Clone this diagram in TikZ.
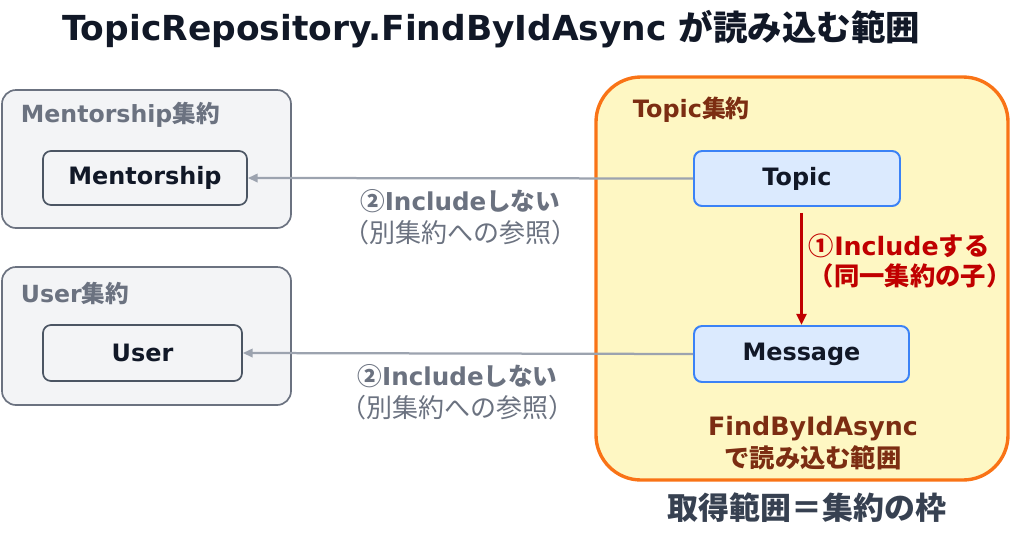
\documentclass[tikz,border=0pt]{standalone}
\usepackage{fontspec}
\setmainfont{DejaVu Sans}
\newfontfamily\jpfont{Noto Sans CJK JP}
\newcommand\ja[1]{{\jpfont #1}}
\usetikzlibrary{arrows.meta,positioning}
\newcommand\pxu{0.025cm}
\definecolor{titleink}{HTML}{111827}
\definecolor{aggline}{HTML}{6B7280}
\definecolor{aggfill}{HTML}{F3F4F6}
\definecolor{entline}{HTML}{4B5563}
\definecolor{refgray}{HTML}{9CA3AF}
\definecolor{topicfill}{HTML}{FEF7C3}
\definecolor{topicline}{HTML}{F97316}
\definecolor{brownink}{HTML}{7C2D12}
\definecolor{bluefill}{HTML}{DBEAFE}
\definecolor{blueline}{HTML}{3B82F6}
\definecolor{redink}{HTML}{C00000}
\definecolor{slateink}{HTML}{374151}
\begin{document}
\begin{tikzpicture}[x=\pxu, y=-\pxu,
    aggbox/.style={draw=aggline, fill=aggfill, line width=1.2pt, rounded corners=14*\pxu},
    entbox/.style={draw=entline, fill=aggfill, line width=1.2pt, rounded corners=8*\pxu,
        font=\fontsize{17}{20}\selectfont\bfseries, text=titleink},
    topicent/.style={draw=blueline, fill=bluefill, line width=1.4pt, rounded corners=8*\pxu,
        font=\fontsize{17}{20}\selectfont\bfseries, text=titleink},
    reflabel/.style={font=\fontsize{17.5}{20}\selectfont\bfseries, text=aggline, align=center},
    refarrow/.style={draw=refgray, line width=1.6pt, -{Triangle[length=7pt,width=6pt]}}]
    \useasboundingbox (0,0) rectangle (1024,552);

    % Title
    \node[font=\fontsize{24.5}{28}\selectfont\bfseries, text=titleink] (title) at (491,29)
        {TopicRepository.FindByIdAsync \ja{が読み込む範囲}};

    % Other aggregates
    \node[aggbox, minimum width=289*\pxu, minimum height=138*\pxu] (mentorAgg) at (146.5,159) {};
    \node[anchor=west, font=\fontsize{16.8}{18}\selectfont\bfseries, text=aggline] (mentorAggLbl)
        at (16,115) {Mentorship\ja{集約}};
    \node[entbox, minimum width=204*\pxu, minimum height=54*\pxu] (mentorNode) at (145,178) {Mentorship};

    \node[aggbox, minimum width=289*\pxu, minimum height=138*\pxu] (userAgg) at (146.5,336) {};
    \node[anchor=west, font=\fontsize{16.8}{18}\selectfont\bfseries, text=aggline] (userAggLbl)
        at (16,293) {User\ja{集約}};
    \node[entbox, minimum width=199*\pxu, minimum height=56*\pxu] (userNode) at (142.5,353) {User};

    % Topic aggregate
    \node[draw=topicline, fill=topicfill, line width=2.4pt, rounded corners=45*\pxu,
        minimum width=412*\pxu, minimum height=403*\pxu] (topicAgg) at (802,278.5) {};
    \node[anchor=west, font=\fontsize{17}{19}\selectfont\bfseries, text=brownink] (topicAggLbl)
        at (628,110) {Topic\ja{集約}};
    \node[topicent, minimum width=206*\pxu, minimum height=55*\pxu] (topicNode) at (797,178.5) {Topic};
    \node[topicent, minimum width=215*\pxu, minimum height=56*\pxu] (messageNode) at (801.5,354) {Message};

    % Include inside the aggregate
    \draw[draw=redink, line width=2pt, -{Triangle[length=8pt,width=7pt]}, shorten <=6*\pxu]
        (messageNode.north |- topicNode.south) -- (messageNode.north);
    \node[anchor=west, align=left, font=\fontsize{18}{22}\selectfont\bfseries, text=redink] (includeLbl)
        at (804,261) {\ja{①}Include\ja{する}\\\ja{（同一集約の子）}};

    % References to other aggregates
    \draw[refarrow] (topicNode.west) -- (mentorNode.east)
        node[pos=0.523, below=5*\pxu, reflabel] (mentorRefLbl)
        {\ja{②}Include\ja{しない}\\[3pt]{\mdseries\fontsize{18.5}{20}\selectfont\ja{（別集約への参照）}}};
    \draw[refarrow] (messageNode.west) -- (userNode.east)
        node[pos=0.523, below=5*\pxu, reflabel] (userRefLbl)
        {\ja{②}Include\ja{しない}\\[3pt]{\mdseries\fontsize{18.5}{20}\selectfont\ja{（別集約への参照）}}};

    % Scope captions
    \node[align=center, font=\fontsize{18}{23}\selectfont\bfseries, text=brownink] (scopeLbl)
        at (813,443) {FindByIdAsync\\\ja{で読み込む範囲}};
    \node[font=\fontsize{22}{24}\selectfont\bfseries, text=slateink] (frameLbl)
        at (807,508) {\ja{取得範囲＝集約の枠}};
\end{tikzpicture}
\end{document}
